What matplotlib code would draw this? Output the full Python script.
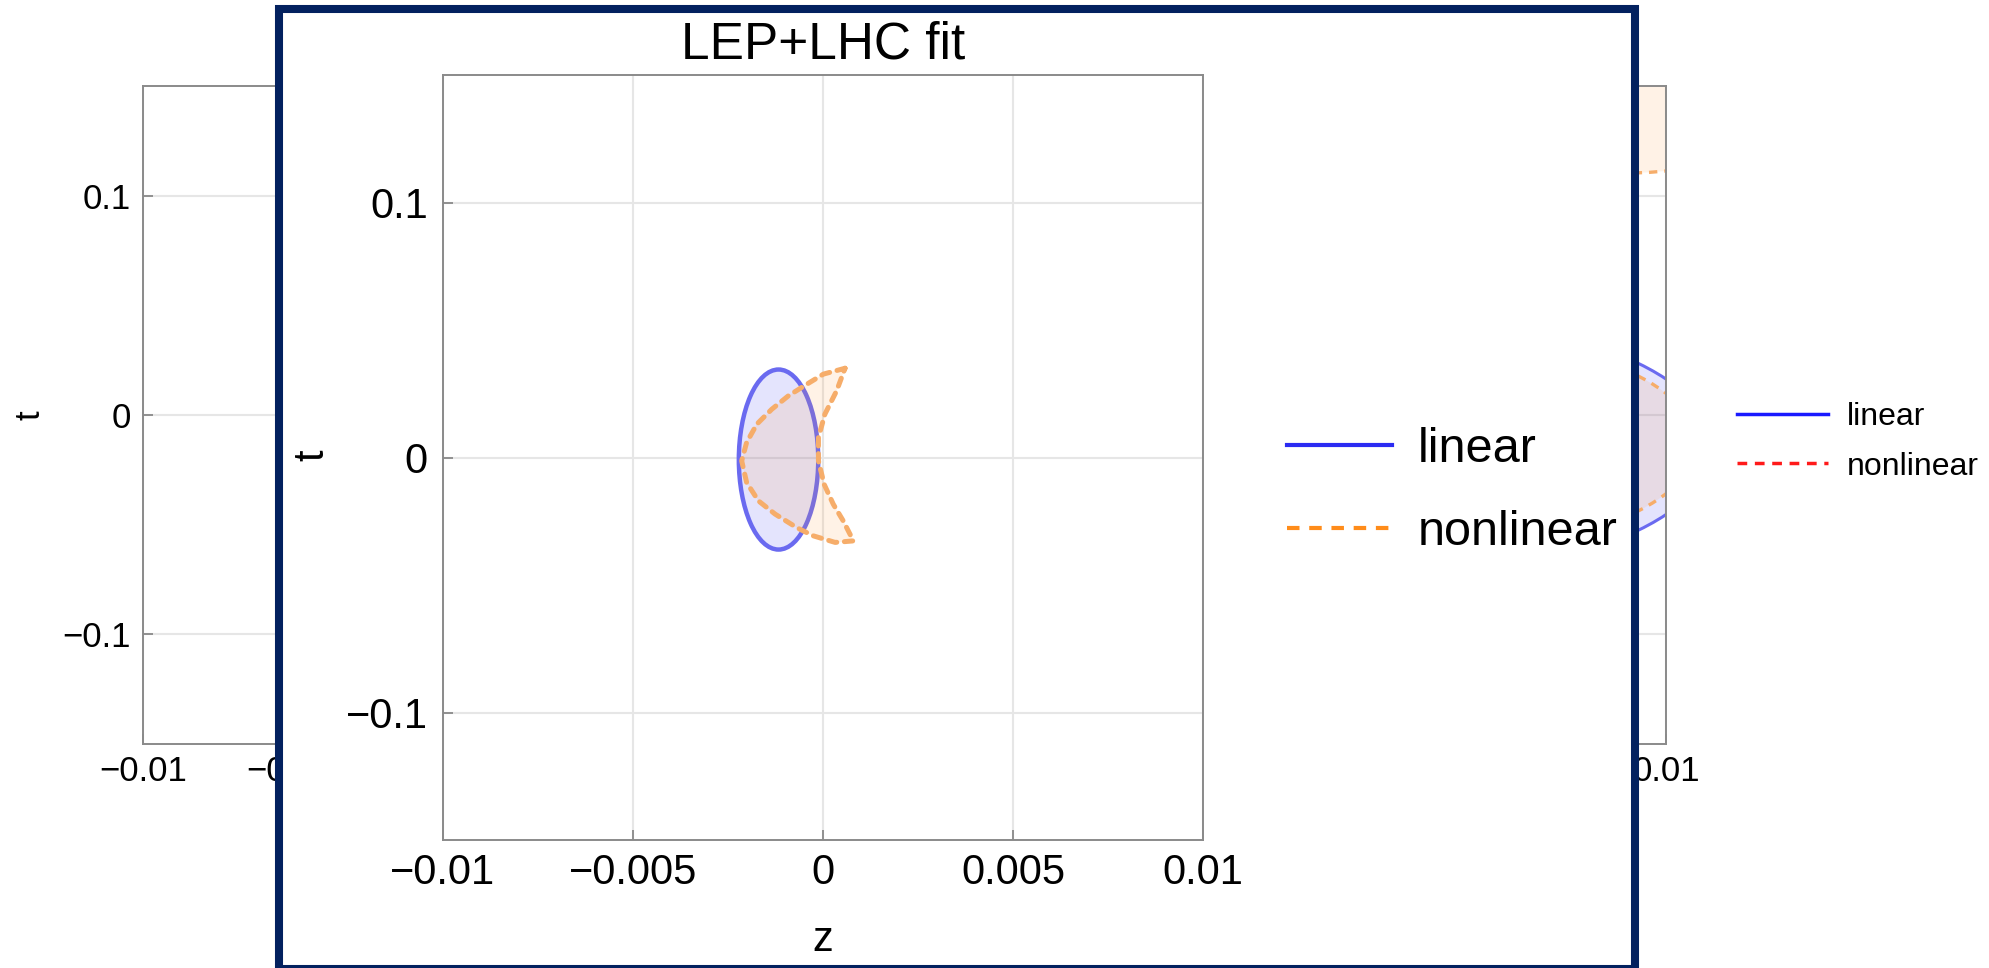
import matplotlib
matplotlib.use("Agg")
import matplotlib.pyplot as plt
from matplotlib.patches import Ellipse, Polygon, Rectangle
from matplotlib.lines import Line2D

plt.rcParams['font.family'] = ['Liberation Sans', 'DejaVu Sans']
plt.rcParams['lines.scale_dashes'] = False

W, H = 1989, 968

# axes ranges / ticks (same on all panels)
z_range = [-0.01, 0.01]
t_range = [-0.15, 0.15]
z_ticks = [-0.01, -0.005, 0, 0.005, 0.01]
z_tick_labels = ['\u22120.01', '\u22120.005', '0', '0.005', '0.01']
t_ticks = [-0.1, 0, 0.1]
t_tick_labels = ['\u22120.1', '0', '0.1']
series_labels = ['linear', 'nonlinear']

# LEP+LHC fit: linear ellipse
lin_center = (-0.00117, -0.0008)
lin_width = 0.00209
lin_height = 0.0706

# LEP+LHC fit: nonlinear crescent, outer edge (top tip -> bottom tip)
nl_outer_z = [0.00058, 0.00001, -0.00043, -0.00091, -0.00135, -0.00174, -0.00201, -0.00214,
              -0.00201, -0.00170, -0.00126, -0.00069, -0.00026, 0.00032, 0.00080]
nl_outer_t = [0.0350, 0.0327, 0.0287, 0.0242, 0.0189, 0.0131, 0.0059, -0.0013,
              -0.0098, -0.0170, -0.0222, -0.0275, -0.0307, -0.0333, -0.0327]
# inner edge (bottom tip -> top tip)
nl_inner_z = [0.00080, 0.00053, 0.00027, 0.00003, -0.00012, -0.00012, 0.00005, 0.00036, 0.00058]
nl_inner_t = [-0.0327, -0.0248, -0.0183, -0.0105, -0.0013, 0.0078, 0.0170, 0.0262, 0.0350]

# background panel (mostly hidden behind the popup)
bg_lin_center = (0.001, -0.0145)
bg_lin_size = (0.021, 0.12)
bg_nl_center = (0.0, -0.013)
bg_nl_size = (0.022, 0.11)
bg_nl2_center = (0.008, 0.17)
bg_nl2_size = (0.02, 0.12)

BLUE_FILL = (0.3, 0.3, 0.95, 0.15)
BLUE_EDGE = '#6a6af0'
ORANGE_FILL = (1.0, 0.6, 0.2, 0.12)
ORANGE_EDGE = '#f6ad6a'
FRAME = '#8a8a8a'
NAVY = '#03215f'


def px_box(x0, y0, x1, y1):
    return [x0 / W, (H - y1) / H, (x1 - x0) / W, (y1 - y0) / H]


def style_axes(ax, fs, xpad, ypad):
    ax.set_xlim(z_range)
    ax.set_ylim(t_range)
    ax.set_xticks(z_ticks, z_tick_labels)
    ax.set_yticks(t_ticks, t_tick_labels)
    ax.grid(True, color='#e6e6e6', lw=1.5)
    ax.set_axisbelow(True)
    ax.tick_params(direction='in', length=7, width=1.3, color=FRAME, labelsize=fs)
    ax.tick_params(axis='x', pad=xpad)
    ax.tick_params(axis='y', pad=ypad)
    for s in ax.spines.values():
        s.set_color(FRAME)
        s.set_linewidth(1.4)


fig = plt.figure(figsize=(W / 100, H / 100), dpi=100)

# ---- background figure ----
bg_left = fig.add_axes(px_box(143, 86, 771, 744))
style_axes(bg_left, 25, 8, 8.6)
bg_left.set_ylabel('t', fontsize=25)
bg_left.yaxis.set_label_coords(-0.153, 0.5)

bg_right = fig.add_axes(px_box(1038, 86, 1666, 744))
style_axes(bg_right, 25, 8, 8.6)
bg_right.add_patch(Ellipse(bg_lin_center, bg_lin_size[0], bg_lin_size[1],
                           facecolor=BLUE_FILL, edgecolor=BLUE_EDGE, lw=2.2))
bg_right.add_patch(Ellipse(bg_nl_center, bg_nl_size[0], bg_nl_size[1],
                           facecolor=ORANGE_FILL, edgecolor=ORANGE_EDGE, lw=2.4,
                           ls=(0, (6, 5))))
bg_right.add_patch(Ellipse(bg_nl2_center, bg_nl2_size[0], bg_nl2_size[1],
                           facecolor=ORANGE_FILL, edgecolor=ORANGE_EDGE, lw=2.4,
                           ls=(0, (6, 5))))

bg_handles = [Line2D([], [], color='#1a1aff', lw=2.5),
              Line2D([], [], color='#ff1a1a', lw=2.5, ls=(0, (7, 5.5)))]
fig.legend(bg_handles, series_labels, loc='center left',
           bbox_to_anchor=(1737 / W, 1 - 442 / H), frameon=False, fontsize=23,
           handlelength=2.85, handletextpad=0.6, labelspacing=0.6,
           borderpad=0, borderaxespad=0)

# ---- popup window ----
popup = Rectangle((279 / W, (H - 969) / H), (1635 - 279) / W, (969 - 9) / H,
                  transform=fig.transFigure, facecolor='white', edgecolor=NAVY,
                  lw=5.8, zorder=1)
fig.add_artist(popup)

ax = fig.add_axes(px_box(443, 75, 1203, 840))
ax.set_zorder(2)
style_axes(ax, 30, 9, 11)

ax.add_patch(Ellipse(lin_center, lin_width, lin_height,
                     facecolor=BLUE_FILL, edgecolor=BLUE_EDGE, lw=3.2))
crescent = list(zip(nl_outer_z, nl_outer_t)) + list(zip(nl_inner_z, nl_inner_t))[1:-1]
ax.add_patch(Polygon(crescent, closed=True, facecolor=ORANGE_FILL,
                     edgecolor=ORANGE_EDGE, lw=3.6, ls=(0, (6, 5.5)),
                     capstyle='round', joinstyle='round'))

ax.set_title('LEP+LHC fit', fontsize=37, pad=12)
ax.set_xlabel('z', fontsize=30)
ax.xaxis.set_label_coords(0.5, -0.105)
ax.set_ylabel('t', fontsize=30)
ax.yaxis.set_label_coords(-0.146, 0.503)

handles = [Line2D([], [], color='#2b2bf2', lw=3),
           Line2D([], [], color='#ff8c1a', lw=3, ls=(0, (9, 7)))]
ax.legend(handles, series_labels, loc='center left',
          bbox_to_anchor=(1287 / W, 1 - 491 / H), bbox_transform=fig.transFigure,
          frameon=False, fontsize=35, handlelength=2.16, handletextpad=0.53,
          labelspacing=0.79, borderpad=0, borderaxespad=0)

fig.savefig('out.png', dpi=100)
